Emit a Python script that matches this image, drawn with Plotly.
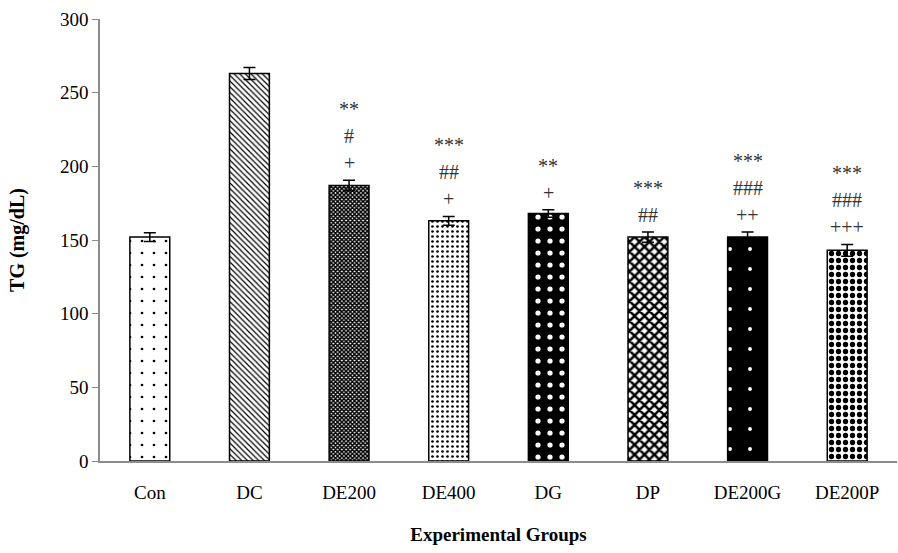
import plotly.graph_objects as go

groups = ["Con", "DC", "DE200", "DE400", "DG", "DP", "DE200G", "DE200P"]
tg = [152, 263, 187, 163, 168, 152, 152, 143]
err = [3, 4, 3.5, 3, 2.5, 3.5, 3.5, 4]
sig_star = ["", "", "**", "***", "**", "***", "***", "***"]
sig_hash = ["", "", "#", "##", "", "##", "###", "###"]
sig_plus = ["", "", "+", "+", "+", "", "++", "+++"]

shapes = [".", "\\", "x", ".", ".", "x", ".", "."]
fg = ["black", "black", "black", "black", "white", "black", "white", "black"]
bg = ["white", "white", "white", "white", "black", "white", "black", "white"]
psize = [12, 4, 3, 5, 12, 7, 20, 7]
solid = [0.04, 0.3, 0.75, 0.22, 0.15, 0.6, 0.03, 0.45]

fig = go.Figure()
fig.add_trace(go.Bar(
    x=groups, y=tg,
    marker=dict(
        color="white",
        line=dict(color="black", width=1.5),
        pattern=dict(shape=shapes, fgcolor=fg, bgcolor=bg, size=psize,
                     solidity=solid, fillmode="replace"),
    ),
    error_y=dict(type="data", array=err, visible=True, color="black",
                 thickness=1.5, width=6),
    width=0.4,
))

font_serif = "Liberation Serif, Times New Roman, serif"
for i, g in enumerate(groups):
    lines = [s for s in (sig_plus[i], sig_hash[i], sig_star[i]) if s]
    for k, txt in enumerate(lines):
        fig.add_annotation(
            x=g, y=tg[i] + err[i], text=txt, showarrow=False,
            yanchor="middle", yshift=17 + 27 * k,
            font=dict(family=font_serif, size=20, color="#333333"),
        )

fig.update_layout(
    width=898, height=553,
    margin=dict(l=100, r=1, t=19, b=92),
    plot_bgcolor="white", paper_bgcolor="white",
    showlegend=False,
    bargap=0.6,
    font=dict(family=font_serif, size=19, color="black"),
    xaxis=dict(
        showline=True, linecolor="#8c8c8c", linewidth=1.5,
        ticks="outside", ticklen=13, tickcolor="rgba(0,0,0,0)",
        showgrid=False,
        tickfont=dict(family=font_serif, size=19),
        title=dict(text="<b>Experimental Groups</b>", standoff=26,
                   font=dict(family=font_serif, size=19)),
    ),
    yaxis=dict(
        range=[0, 300], tickvals=[0, 50, 100, 150, 200, 250, 300],
        showline=True, linecolor="#8c8c8c", linewidth=1.5,
        ticks="outside", ticklen=6, tickcolor="#8c8c8c",
        showgrid=False, zeroline=False,
        tickfont=dict(family=font_serif, size=19),
        title=dict(text="<b>TG (mg/dL)</b>", standoff=30,
                   font=dict(family=font_serif, size=20)),
    ),
)

fig.write_html("out.html")
